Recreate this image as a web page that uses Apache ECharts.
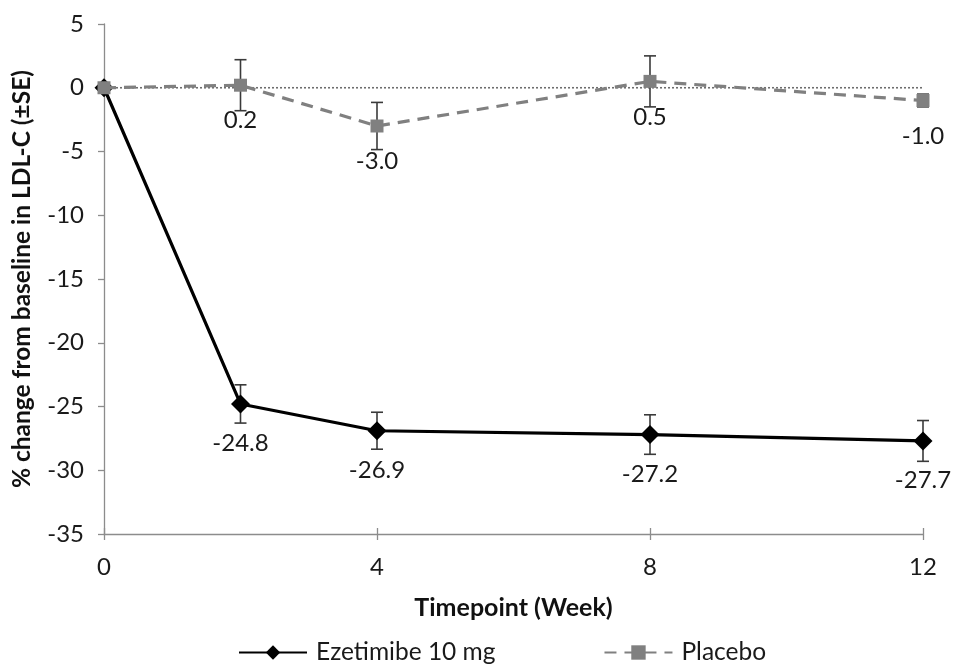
<!DOCTYPE html>
<html>
<head>
<meta charset="utf-8">
<script src="https://cdn.jsdelivr.net/npm/echarts@6/dist/echarts.min.js"></script>
<style>
html,body{margin:0;padding:0;background:#fff;}
#chart{width:953px;height:666px;}
</style>
</head>
<body>
<div id="chart"></div>
<script>
var weeks = [0, 2, 4, 8, 12];
var xTicks = [0, 4, 8, 12];
var yTicks = [5, 0, -5, -10, -15, -20, -25, -30, -35];
var ezetimibe = [0, -24.8, -26.9, -27.2, -27.7];
var ezetimibeSE = [0, 1.5, 1.45, 1.55, 1.6];
var placebo = [0, 0.2, -3.0, 0.5, -1.0];
var placeboSE = [0, 2.0, 1.85, 2.0, 0.5];
var seriesNames = ['Ezetimibe 10 mg', 'Placebo'];

var FONT = 'Lato, "Liberation Sans", Arial, sans-serif';

function pts(vals) {
  return weeks.map(function (w, i) {
    var item = { value: [w, vals[i]] };
    if (w === 0) item.label = { show: false };
    return item;
  });
}
function errs(vals, se) {
  return weeks.map(function (w, i) { return [w, vals[i] - se[i], vals[i] + se[i]]; })
    .filter(function (d) { return d[2] - d[1] > 0; });
}
function errRender(params, api) {
  var x = api.value(0);
  var lo = api.coord([x, api.value(1)]);
  var hi = api.coord([x, api.value(2)]);
  var cw = 6;
  var st = { stroke: '#3a3a3a', lineWidth: 1.6 };
  return {
    type: 'group',
    children: [
      { type: 'line', shape: { x1: lo[0], y1: lo[1], x2: hi[0], y2: hi[1] }, style: st },
      { type: 'line', shape: { x1: lo[0] - cw, y1: lo[1], x2: lo[0] + cw, y2: lo[1] }, style: st },
      { type: 'line', shape: { x1: hi[0] - cw, y1: hi[1], x2: hi[0] + cw, y2: hi[1] }, style: st }
    ]
  };
}

var chart = echarts.init(document.getElementById('chart'), null, { renderer: 'canvas' });
var axisLineGray = '#8c8c8c';
var option = {
  animation: false,
  textStyle: { fontFamily: FONT },
  grid: { left: 104, right: 30, top: 24, bottom: 132 },
  legend: {
    top: 640,
    left: 238,
    padding: 0,
    itemWidth: 68,
    itemHeight: 18,
    itemGap: 108,
    textStyle: { fontSize: 24.5, color: '#1a1a1a', fontFamily: FONT, padding: [0, 0, 0, 4] },
    data: seriesNames
  },
  xAxis: [{
    type: 'value', min: 0, max: 12, interval: 4,
    name: 'Timepoint (Week)', nameLocation: 'middle', nameGap: 61,
    nameTextStyle: { fontSize: 25, fontWeight: 'bold', color: '#111', fontFamily: FONT },
    axisLine: { onZero: false, lineStyle: { color: axisLineGray, width: 1.3 } },
    axisTick: { show: true, length: 6, lineStyle: { color: axisLineGray, width: 1.3 } },
    axisLabel: { fontSize: 24, color: '#1a1a1a', margin: 21, formatter: function (v) { return xTicks.indexOf(v) >= 0 ? String(v) : ''; } },
    splitLine: { show: false }
  }, {
    type: 'value', min: 0, max: 12, interval: 4, position: 'bottom',
    axisLine: { onZero: false, show: false },
    axisTick: { show: true, inside: true, length: 6, lineStyle: { color: axisLineGray, width: 1.3 } },
    axisLabel: { show: false },
    splitLine: { show: false }
  }],
  yAxis: {
    type: 'value', min: -35, max: 5, interval: 5,
    name: '% change from baseline in LDL-C (\u00B1SE)', nameLocation: 'middle', nameGap: 69,
    nameTextStyle: { fontSize: 24.5, fontWeight: 'bold', color: '#111', fontFamily: FONT },
    axisLine: { show: true, lineStyle: { color: axisLineGray, width: 1.3 } },
    axisTick: { show: true, length: 6, lineStyle: { color: axisLineGray, width: 1.3 } },
    axisLabel: { fontSize: 24, color: '#1a1a1a', margin: 20, formatter: function (v) { return yTicks.indexOf(v) >= 0 ? String(v) : ''; } },
    splitLine: { show: false }
  },
  series: [
    {
      name: 'zero', type: 'line', silent: true, symbol: 'none',
      data: [[0, 0], [12, 0]],
      lineStyle: { color: '#6e6e6e', width: 1.6, type: [2, 2] },
      z: 1
    },
    {
      name: 'ezeErr', type: 'custom', renderItem: errRender,
      data: errs(ezetimibe, ezetimibeSE), encode: { x: 0, y: [1, 2] }, z: 2
    },
    {
      name: 'plaErr', type: 'custom', renderItem: errRender,
      data: errs(placebo, placeboSE), encode: { x: 0, y: [1, 2] }, z: 2
    },
    {
      name: seriesNames[0], type: 'line', data: pts(ezetimibe),
      symbol: 'diamond', symbolSize: 19,
      itemStyle: { color: '#000' },
      lineStyle: { color: '#000', width: 3.2 },
      label: { show: true, position: 'bottom', distance: 18, fontSize: 24, color: '#1a1a1a', fontFamily: FONT,
        formatter: function (p) { return p.value[1].toFixed(1); } },
      z: 3
    },
    {
      name: seriesNames[1], type: 'line', data: pts(placebo),
      symbol: 'rect', symbolSize: 13,
      itemStyle: { color: '#808080' },
      lineStyle: { color: '#808080', width: 3.2, type: [12, 8] },
      label: { show: true, position: 'bottom', distance: 17, fontSize: 24, color: '#1a1a1a', fontFamily: FONT,
        formatter: function (p) { return p.value[1].toFixed(1); } },
      z: 4
    }
  ]
};
chart.setOption(option);
</script>
</body>
</html>
